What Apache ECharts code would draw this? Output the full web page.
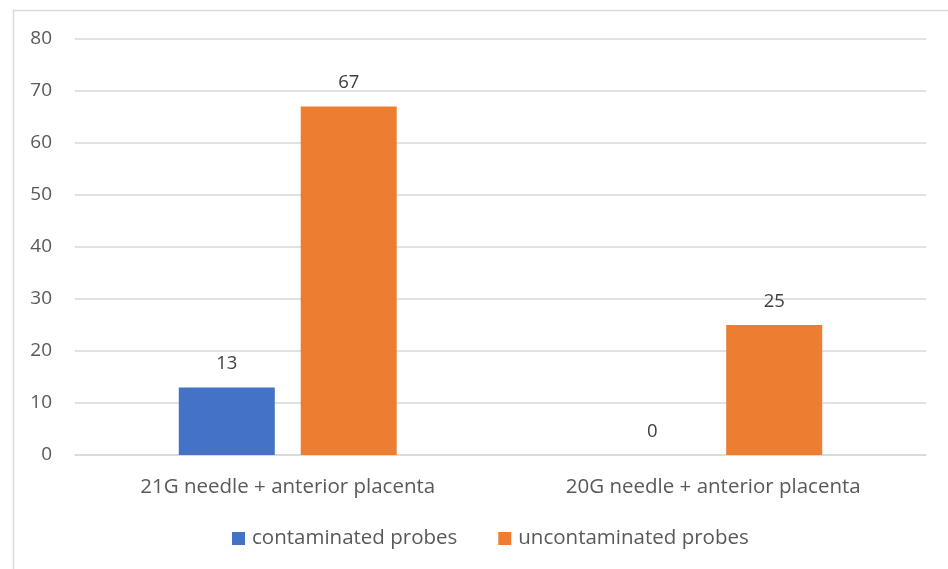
<!DOCTYPE html>
<html><head><meta charset="utf-8">
<script src="https://cdn.jsdelivr.net/npm/echarts@6/dist/echarts.min.js"></script>
<style>html,body{margin:0;padding:0;background:#fff}#c{width:948px;height:569px}</style>
</head><body><div id="c"></div>
<script>
const categories = ['21G needle + anterior placenta', '20G needle + anterior placenta'];
const contaminated = [13, 0];
const uncontaminated = [67, 25];
const seriesNames = ['contaminated probes', 'uncontaminated probes'];
const yTicks = {min: 0, max: 80, interval: 10};

const font = 'Open Sans';
const chart = echarts.init(document.getElementById('c'));
const labelStyle = {show: true, position: 'top', distance: 14, color: '#404040', fontSize: 18.5, fontFamily: font};
chart.setOption({
  animation: false,
  graphic: [{type: 'rect', shape: {x: 13.5, y: 10.5, width: 960, height: 600}, style: {fill: 'none', stroke: '#d9d9d9', lineWidth: 1.5}, silent: true}],
  grid: {left: 75, right: 22, top: 39, bottom: 114},
  legend: {
    bottom: 15, left: 227, itemWidth: 13, itemHeight: 13, itemGap: 41,
    icon: 'rect',
    textStyle: {color: '#595959', fontSize: 20.5, fontFamily: font, padding: [0, 0, 0, 2]},
    data: seriesNames
  },
  xAxis: {
    type: 'category', data: categories,
    axisLine: {lineStyle: {color: '#d9d9d9', width: 1.5}},
    axisTick: {show: false},
    axisLabel: {color: '#595959', fontSize: 20.5, fontFamily: font, margin: 22}
  },
  yAxis: {
    type: 'value', min: yTicks.min, max: yTicks.max, interval: yTicks.interval,
    axisLine: {show: false}, axisTick: {show: false},
    splitLine: {lineStyle: {color: '#d9d9d9', width: 1.5}},
    axisLabel: {color: '#595959', fontSize: 19, fontFamily: font, margin: 23}
  },
  series: [
    {name: seriesNames[0], type: 'bar', data: contaminated, barWidth: 96, barGap: '27%', itemStyle: {color: '#4472c4'}, label: labelStyle},
    {name: seriesNames[1], type: 'bar', data: uncontaminated, barWidth: 96, itemStyle: {color: '#ed7d31'}, label: labelStyle}
  ]
});
</script></body></html>
